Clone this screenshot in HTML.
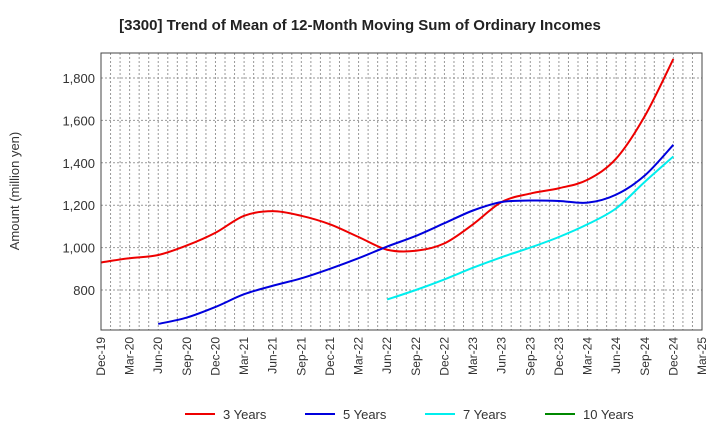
<!DOCTYPE html>
<html><head><meta charset="utf-8"><style>
body{margin:0;background:#fff;font-family:"Liberation Sans",sans-serif}
svg text{font-family:"Liberation Sans",sans-serif}
</style></head><body>
<svg id="c" width="720" height="440" xmlns="http://www.w3.org/2000/svg">
<text x="360" y="30" text-anchor="middle" font-size="15" font-weight="bold" fill="#222">[3300]  Trend of Mean of 12-Month Moving Sum of Ordinary Incomes</text>
<text transform="translate(19,191) rotate(-90)" text-anchor="middle" font-size="13" fill="#333">Amount (million yen)</text>
<g id="grid"></g><g id="series"></g><g id="axes"></g><g id="legend"></g>
</svg>
<script>
const xLabels=["Dec-19","Mar-20","Jun-20","Sep-20","Dec-20","Mar-21","Jun-21","Sep-21","Dec-21","Mar-22","Jun-22","Sep-22","Dec-22","Mar-23","Jun-23","Sep-23","Dec-23","Mar-24","Jun-24","Sep-24","Dec-24","Mar-25"];
const yTicks=[800,1000,1200,1400,1600,1800];
const s3=[930,950,965,1010,1070,1150,1172,1150,1110,1050,990,985,1020,1110,1215,1255,1280,1320,1420,1620,1890];
const s5=[null,null,640,670,720,780,820,855,900,950,1005,1055,1115,1175,1215,1222,1220,1212,1250,1340,1485];
const s7=[null,null,null,null,null,null,null,null,null,null,755,800,850,905,955,1000,1050,1110,1185,1310,1430];
const s10=[];
const NS="http://www.w3.org/2000/svg";
const L=101,R=702,T=53,B=330;
const X=i=>L+i*(R-L)/21;
const Y=v=>290-(v-800)*0.212;
function mk(tag,a,parent){const e=document.createElementNS(NS,tag);for(const k in a)e.setAttribute(k,a[k]);parent.appendChild(e);return e;}
const g=document.getElementById('grid'),ax=document.getElementById('axes'),sg=document.getElementById('series'),lg=document.getElementById('legend');
for(let m=1;m<63;m++){const x=L+m*(R-L)/63;const l=mk('line',{x1:x,x2:x,y1:T,y2:B,stroke:'#999','stroke-dasharray':'2,2','stroke-width':1},g);

}
yTicks.forEach(v=>{const l=mk('line',{x1:L,x2:R,y1:Y(v),y2:Y(v),stroke:'#999','stroke-dasharray':'2,2'},g);


const t=mk('text',{x:L-6,y:Y(v)+5,'text-anchor':'end','font-size':13,fill:'#333'},ax);t.textContent=v.toLocaleString('en-US');

});
const fr=mk('rect',{x:L,y:T,width:R-L,height:B-T,fill:'none',stroke:'#444','stroke-width':1},ax);


xLabels.forEach((s,i)=>{const t=mk('text',{transform:`translate(${X(i)+4},${B+7}) rotate(-90)`,'text-anchor':'end','font-size':12,fill:'#333'},ax);t.textContent=s;

});
function path(arr){const p=[];arr.forEach((v,i)=>{if(v!=null)p.push([X(i),Y(v)]);});if(p.length<2)return '';
let d=`M${p[0][0]},${p[0][1]}`;for(let i=0;i<p.length-1;i++){const p0=p[i-1]||p[i],p1=p[i],p2=p[i+1],p3=p[i+2]||p2;
d+=` C${p1[0]+(p2[0]-p0[0])/6},${p1[1]+(p2[1]-p0[1])/6} ${p2[0]-(p3[0]-p1[0])/6},${p2[1]-(p3[1]-p1[1])/6} ${p2[0]},${p2[1]}`;}return d;}
[[s3,'#ee0000','series-3-years'],[s5,'#0000dd','series-5-years'],[s7,'#00eeee','series-7-years'],[s10,'#008800','series-10-years']].forEach(([a,c,n])=>{const d=path(a);if(!d)return;
const e=mk('path',{d:d,fill:'none',stroke:c,'stroke-width':2},sg);

});
[['3 Years','#ee0000',185],['5 Years','#0000dd',305],['7 Years','#00eeee',425],['10 Years','#008800',545]].forEach(([s,c,x])=>{
const gg=mk('g',{},lg);


mk('line',{x1:x,x2:x+30,y1:414,y2:414,stroke:c,'stroke-width':2},gg);
const t=mk('text',{x:x+38,y:419,'font-size':13,fill:'#333'},gg);t.textContent=s;});
</script>
</body></html>
